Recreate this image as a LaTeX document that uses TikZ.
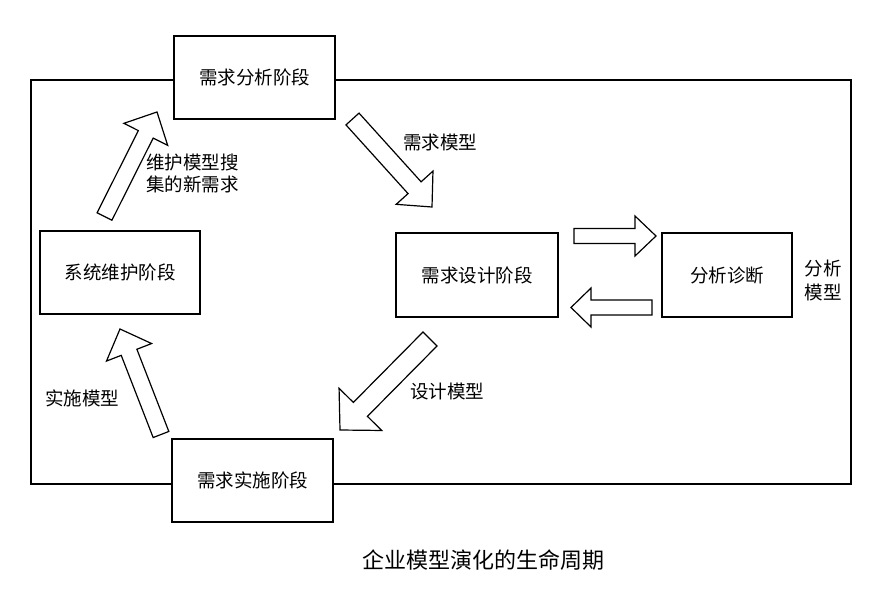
\documentclass[tikz,border=0pt]{standalone}
\usepackage{fontspec}
\newfontfamily\cjk{Noto Sans CJK SC}
\usetikzlibrary{calc}
\tikzset{
  stage/.style={draw, line width=1.3pt, fill=white, inner sep=0pt,
    font=\cjk\fontsize{18.5}{22}\selectfont},
  lbl/.style={inner sep=0pt, font=\cjk\fontsize{18.5}{22}\selectfont},
  blk/.style={draw, line width=1.2pt, fill=white, line join=miter},
  framebox/.style={draw, line width=1.3pt}
}
% tail, tip, shaft half-width, head half-width, head length
\newcommand{\blockarrow}[5]{%
  \coordinate (n#1#2) at ($(#2)!#5!(#1)$);
  \draw[blk] ($(#1)!#3!90:(#2)$) -- ($(n#1#2)!#3!-90:(#1)$)
    -- ($(n#1#2)!#4!-90:(#1)$) -- (#2) -- ($(n#1#2)!#4!90:(#1)$)
    -- ($(n#1#2)!#3!90:(#1)$) -- ($(#1)!#3!-90:(#2)$) -- cycle;
}
\begin{document}
\begin{tikzpicture}[x=1pt,y=-1pt]
\useasboundingbox (0,0) rectangle (896,599);
% outer frame
\coordinate (fa) at (31,80);
\coordinate (fb) at (851,484);
\draw[framebox] (fa) rectangle (fb);
% stages
\node[stage, minimum width=161pt, minimum height=83pt] (ana)  at (254.5,77.5) {需求分析阶段};
\node[stage, minimum width=160pt, minimum height=83pt] (main) at (120,272.5)  {系统维护阶段};
\node[stage, minimum width=162pt, minimum height=84pt] (des)  at (477,275)    {需求设计阶段};
\node[stage, minimum width=130pt, minimum height=84pt] (diag) at (727,275)    {分析诊断};
\node[stage, minimum width=161pt, minimum height=83pt] (impl) at (252.5,480.5) {需求实施阶段};
% block arrows
\coordinate (a1t) at (104.5,216.5); \coordinate (a1h) at (157,112);
\coordinate (a2t) at (352.5,119);   \coordinate (a2h) at (432,207);
\coordinate (a3t) at (574,236);     \coordinate (a3h) at (656,236);
\coordinate (a4t) at (652,307.5);   \coordinate (a4h) at (571,307.5);
\coordinate (a5t) at (430,339);     \coordinate (a5h) at (340,430);
\coordinate (a6t) at (161,434.5);   \coordinate (a6h) at (120,329);
\blockarrow{a1t}{a1h}{8.3pt}{24.5pt}{25pt}
\blockarrow{a2t}{a2h}{8.8pt}{24.8pt}{26pt}
\blockarrow{a3t}{a3h}{7.5pt}{20pt}{21pt}
\blockarrow{a4t}{a4h}{7.5pt}{19.5pt}{20pt}
\blockarrow{a5t}{a5h}{9.9pt}{30pt}{29pt}
\blockarrow{a6t}{a6h}{8.4pt}{24.2pt}{25pt}
% labels
\node[lbl, anchor=west, align=left] (l1) at (146,173.5) {维护模型搜\\集的新需求};
\node[lbl] (l2) at (440,142) {需求模型};
\node[lbl] (l3) at (447,391) {设计模型};
\node[lbl] (l4) at (82,398) {实施模型};
\node[lbl, align=center, font=\cjk\fontsize{18.5}{24}\selectfont] (l5) at (823,280) {分析\\模型};
\node[inner sep=0pt, font=\cjk\fontsize{22}{26}\selectfont] (cap) at (483,560) {企业模型演化的生命周期};
\end{tikzpicture}
\end{document}
